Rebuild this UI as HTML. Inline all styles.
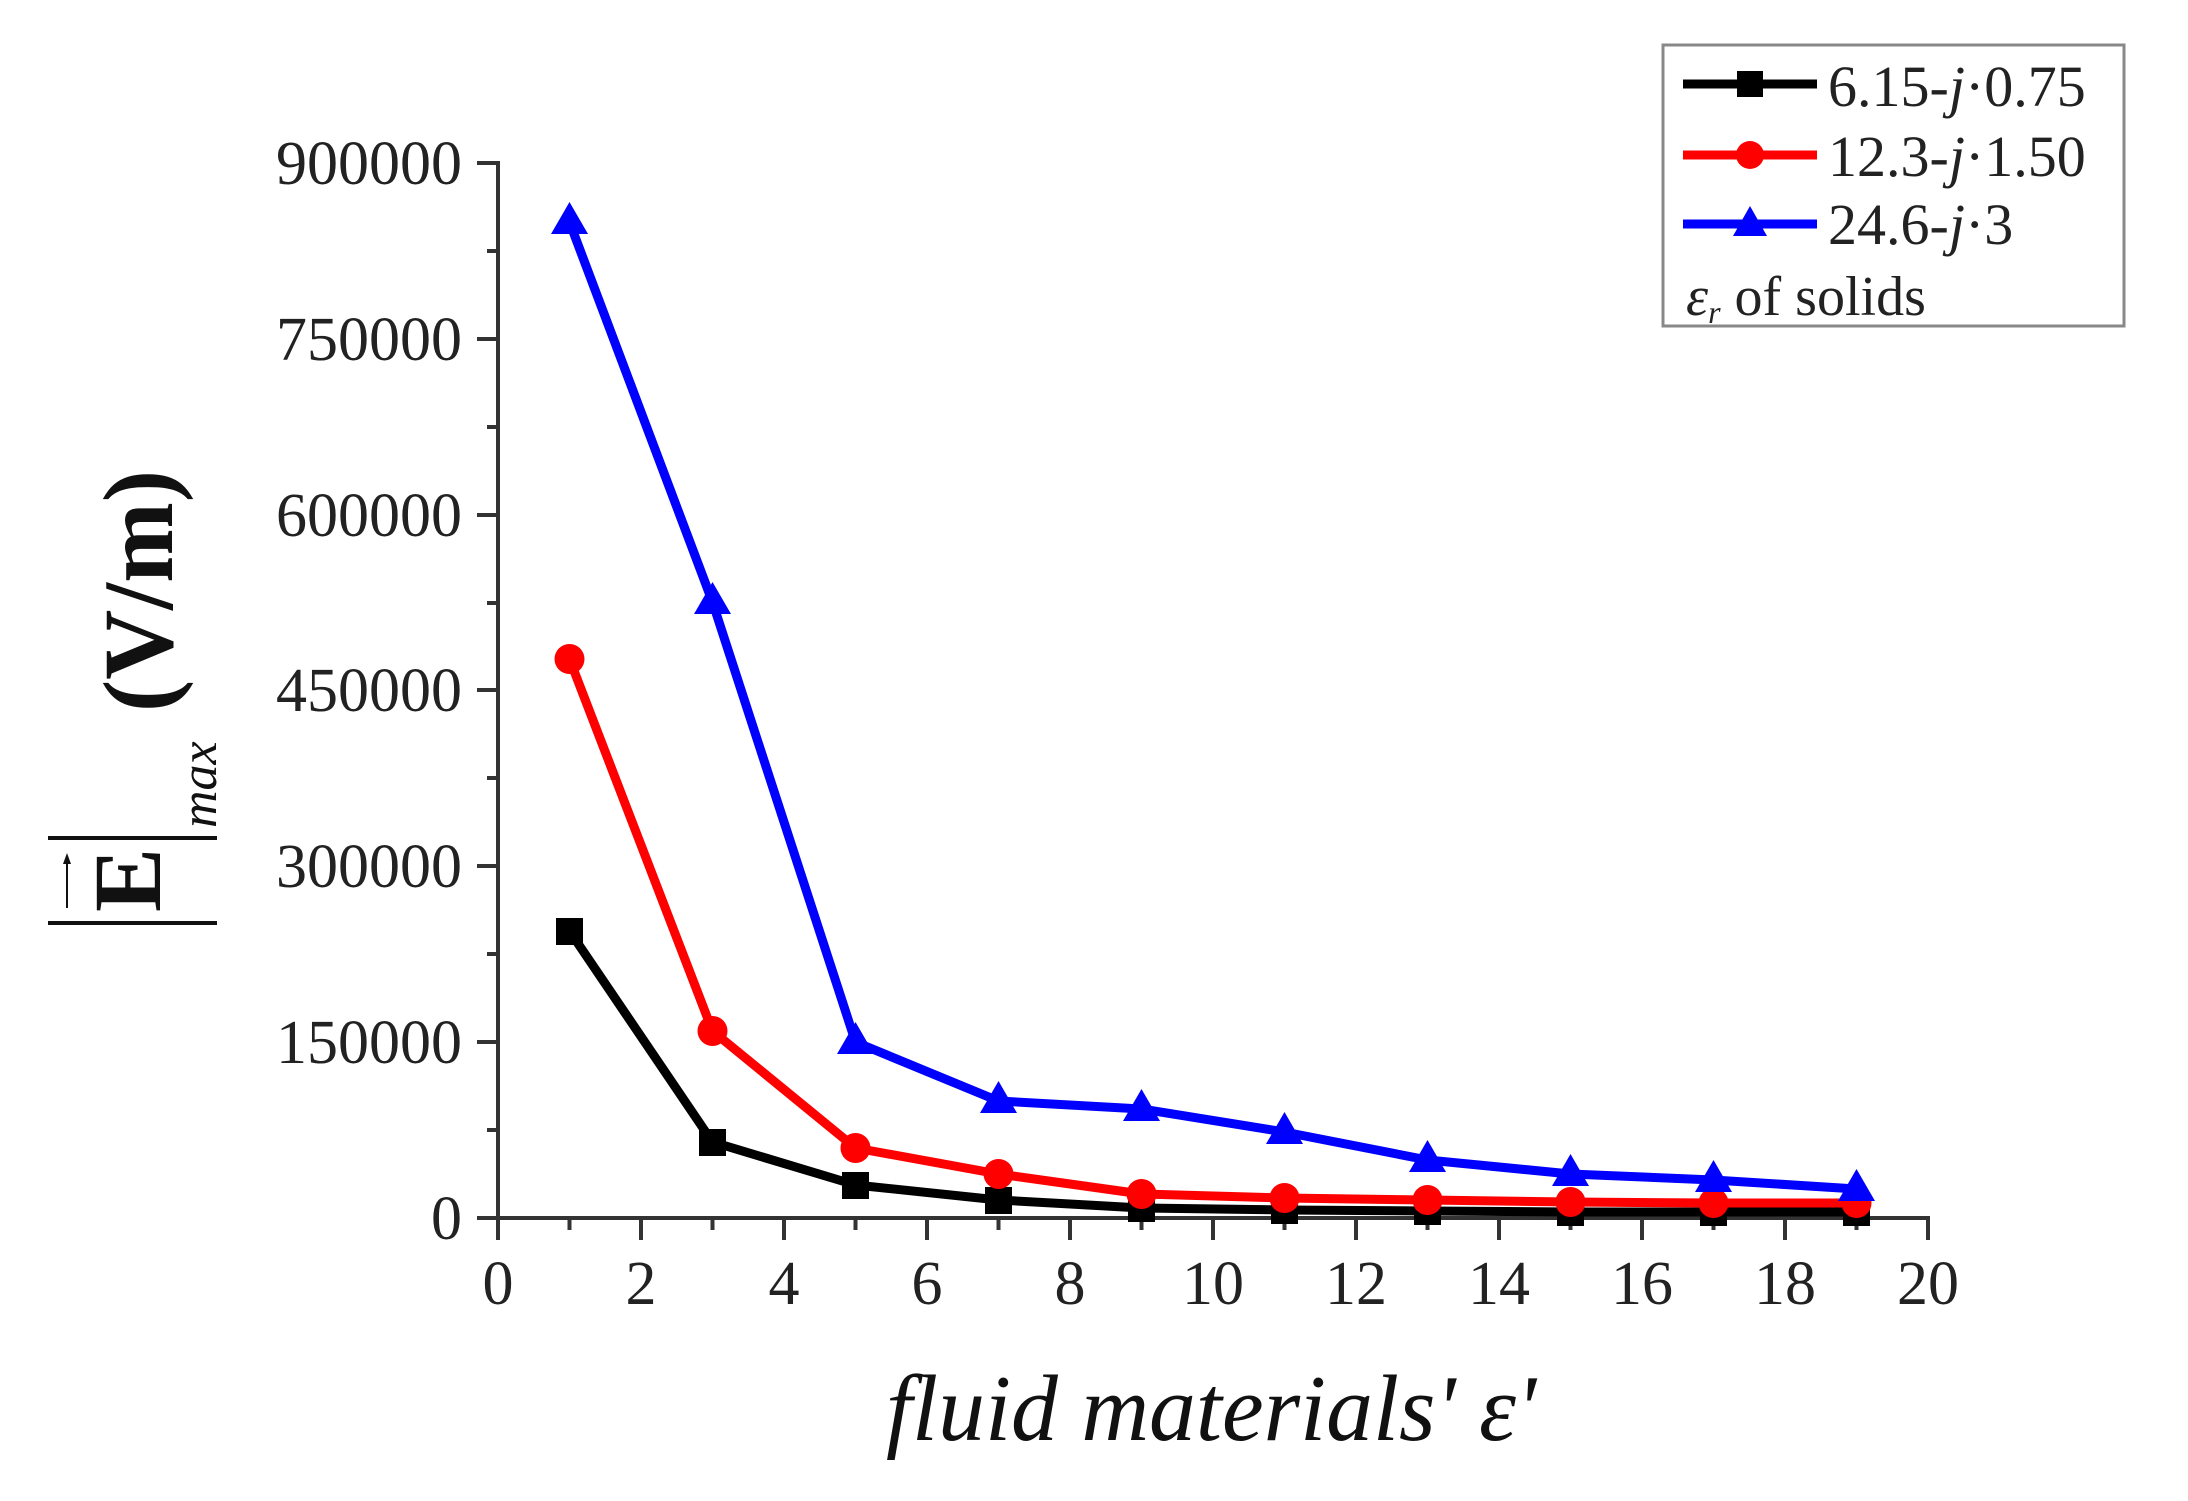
<!DOCTYPE html>
<html><head><meta charset="utf-8"><style>
html,body{margin:0;padding:0;background:#fff;}
svg{display:block;}
</style></head><body>
<svg width="2188" height="1501" viewBox="0 0 2188 1501" xmlns="http://www.w3.org/2000/svg" font-family="'Liberation Serif', serif">
<rect width="2188" height="1501" fill="#fff"/>
<g stroke="#333" stroke-width="4" fill="none">
<line x1="498" y1="161" x2="498" y2="1220"/>
<line x1="477" y1="1218" x2="1930" y2="1218"/>
<line x1="477" y1="163" x2="498" y2="163"/>
<line x1="477" y1="339" x2="498" y2="339"/>
<line x1="477" y1="515" x2="498" y2="515"/>
<line x1="477" y1="690" x2="498" y2="690"/>
<line x1="477" y1="866" x2="498" y2="866"/>
<line x1="477" y1="1042" x2="498" y2="1042"/>
<line x1="487" y1="251" x2="498" y2="251"/>
<line x1="487" y1="427" x2="498" y2="427"/>
<line x1="487" y1="603" x2="498" y2="603"/>
<line x1="487" y1="778" x2="498" y2="778"/>
<line x1="487" y1="954" x2="498" y2="954"/>
<line x1="487" y1="1130" x2="498" y2="1130"/>
<line x1="498" y1="1218" x2="498" y2="1240"/>
<line x1="641" y1="1218" x2="641" y2="1240"/>
<line x1="784" y1="1218" x2="784" y2="1240"/>
<line x1="927" y1="1218" x2="927" y2="1240"/>
<line x1="1070" y1="1218" x2="1070" y2="1240"/>
<line x1="1213" y1="1218" x2="1213" y2="1240"/>
<line x1="1356" y1="1218" x2="1356" y2="1240"/>
<line x1="1499" y1="1218" x2="1499" y2="1240"/>
<line x1="1642" y1="1218" x2="1642" y2="1240"/>
<line x1="1785" y1="1218" x2="1785" y2="1240"/>
<line x1="1928" y1="1216" x2="1928" y2="1240"/>
<line x1="569.5" y1="1218" x2="569.5" y2="1230"/>
<line x1="712.5" y1="1218" x2="712.5" y2="1230"/>
<line x1="855.5" y1="1218" x2="855.5" y2="1230"/>
<line x1="998.5" y1="1218" x2="998.5" y2="1230"/>
<line x1="1141.5" y1="1218" x2="1141.5" y2="1230"/>
<line x1="1284.5" y1="1218" x2="1284.5" y2="1230"/>
<line x1="1427.5" y1="1218" x2="1427.5" y2="1230"/>
<line x1="1570.5" y1="1218" x2="1570.5" y2="1230"/>
<line x1="1713.5" y1="1218" x2="1713.5" y2="1230"/>
<line x1="1856.5" y1="1218" x2="1856.5" y2="1230"/>
</g>
<g font-size="62" fill="#222" text-anchor="end">
<text x="462" y="184">900000</text>
<text x="462" y="360">750000</text>
<text x="462" y="536">600000</text>
<text x="462" y="711">450000</text>
<text x="462" y="887">300000</text>
<text x="462" y="1063">150000</text>
<text x="462" y="1239">0</text>
</g>
<g font-size="62" fill="#222" text-anchor="middle">
<text x="498" y="1304">0</text>
<text x="641" y="1304">2</text>
<text x="784" y="1304">4</text>
<text x="927" y="1304">6</text>
<text x="1070" y="1304">8</text>
<text x="1213" y="1304">10</text>
<text x="1356" y="1304">12</text>
<text x="1499" y="1304">14</text>
<text x="1642" y="1304">16</text>
<text x="1785" y="1304">18</text>
<text x="1928" y="1304">20</text>
</g>
<text x="886" y="1440" font-size="94" font-style="italic" fill="#111" textLength="650" lengthAdjust="spacingAndGlyphs">fluid materials' ε'</text>
<g fill="#111">
<text transform="translate(172,712) rotate(-90)" font-size="100" font-weight="bold" textLength="242" lengthAdjust="spacingAndGlyphs">(V/m)</text>
<text transform="translate(160,912) rotate(-90)" font-size="96" font-weight="bold">E</text>
<text transform="translate(216,828) rotate(-90)" font-size="52" font-style="italic">max</text>
</g>
<g stroke="#111" stroke-width="4">
<line x1="48" y1="923" x2="217" y2="923"/>
<line x1="48" y1="838" x2="217" y2="838"/>
<line x1="67" y1="908" x2="67" y2="862" stroke-width="2"/>
</g>
<polygon points="67,853 63,864 71,864" fill="#111"/>
<g fill="none" stroke-width="9" stroke-linejoin="round">
<polyline stroke="#000" points="569.5,931 712.5,1142 855.5,1185 998.5,1200 1141.5,1208 1284.5,1210 1427.5,1211 1570.5,1212 1713.5,1212 1856.5,1212"/>
<polyline stroke="#f00" points="569.5,659 712.5,1031 855.5,1148 998.5,1174 1141.5,1194 1284.5,1198 1427.5,1200 1570.5,1202 1713.5,1203 1856.5,1203"/>
<polyline stroke="#00f" points="569.5,222 712.5,602 855.5,1042 998.5,1101 1141.5,1109 1284.5,1132 1427.5,1160 1570.5,1174 1713.5,1180 1856.5,1189"/>
</g>
<g fill="#000">
<rect x="556" y="918" width="27" height="27"/><rect x="699" y="1129" width="27" height="27"/><rect x="842" y="1172" width="27" height="27"/><rect x="985" y="1187" width="27" height="27"/><rect x="1128" y="1195" width="27" height="27"/><rect x="1271" y="1197" width="27" height="27"/><rect x="1414" y="1198" width="27" height="27"/><rect x="1557" y="1199" width="27" height="27"/><rect x="1700" y="1199" width="27" height="27"/><rect x="1843" y="1199" width="27" height="27"/>
</g>
<g fill="#f00">
<circle cx="569.5" cy="659" r="15"/><circle cx="712.5" cy="1031" r="15"/><circle cx="855.5" cy="1148" r="15"/><circle cx="998.5" cy="1174" r="15"/><circle cx="1141.5" cy="1194" r="15"/><circle cx="1284.5" cy="1198" r="15"/><circle cx="1427.5" cy="1200" r="15"/><circle cx="1570.5" cy="1202" r="15"/><circle cx="1713.5" cy="1203" r="15"/><circle cx="1856.5" cy="1203" r="15"/>
</g>
<g fill="#00f">
<polygon points="569.5,202 551,234 588,234"/><polygon points="712.5,582 694,614 731,614"/><polygon points="855.5,1022 837,1054 874,1054"/><polygon points="998.5,1081 980,1113 1017,1113"/><polygon points="1141.5,1089 1123,1121 1160,1121"/><polygon points="1284.5,1112 1266,1144 1303,1144"/><polygon points="1427.5,1140 1409,1172 1446,1172"/><polygon points="1570.5,1154 1552,1186 1589,1186"/><polygon points="1713.5,1160 1695,1192 1732,1192"/><polygon points="1856.5,1169 1838,1201 1875,1201"/>
</g>
<rect x="1663" y="45" width="461" height="281" fill="#fff" stroke="#888" stroke-width="3"/>
<g stroke-width="9">
<line x1="1683" y1="84" x2="1817" y2="84" stroke="#000"/>
<line x1="1683" y1="155" x2="1817" y2="155" stroke="#f00"/>
<line x1="1683" y1="224" x2="1817" y2="224" stroke="#00f"/>
</g>
<rect x="1737" y="71" width="26" height="26" fill="#000"/>
<circle cx="1750" cy="155" r="14" fill="#f00"/>
<polygon points="1750,206 1733,236 1767,236" fill="#00f"/>
<g font-size="58" fill="#222">
<text x="1828" y="106">6.15-<tspan font-style="italic">j</tspan>·0.75</text>
<text x="1828" y="176">12.3-<tspan font-style="italic">j</tspan>·1.50</text>
<text x="1828" y="244">24.6-<tspan font-style="italic">j</tspan>·3</text>
<text x="1686" y="315" font-size="56"><tspan font-style="italic">ε</tspan><tspan font-style="italic" font-size="32" dy="8">r</tspan><tspan dy="-8"> of solids</tspan></text>
</g>
</svg>
</body></html>
